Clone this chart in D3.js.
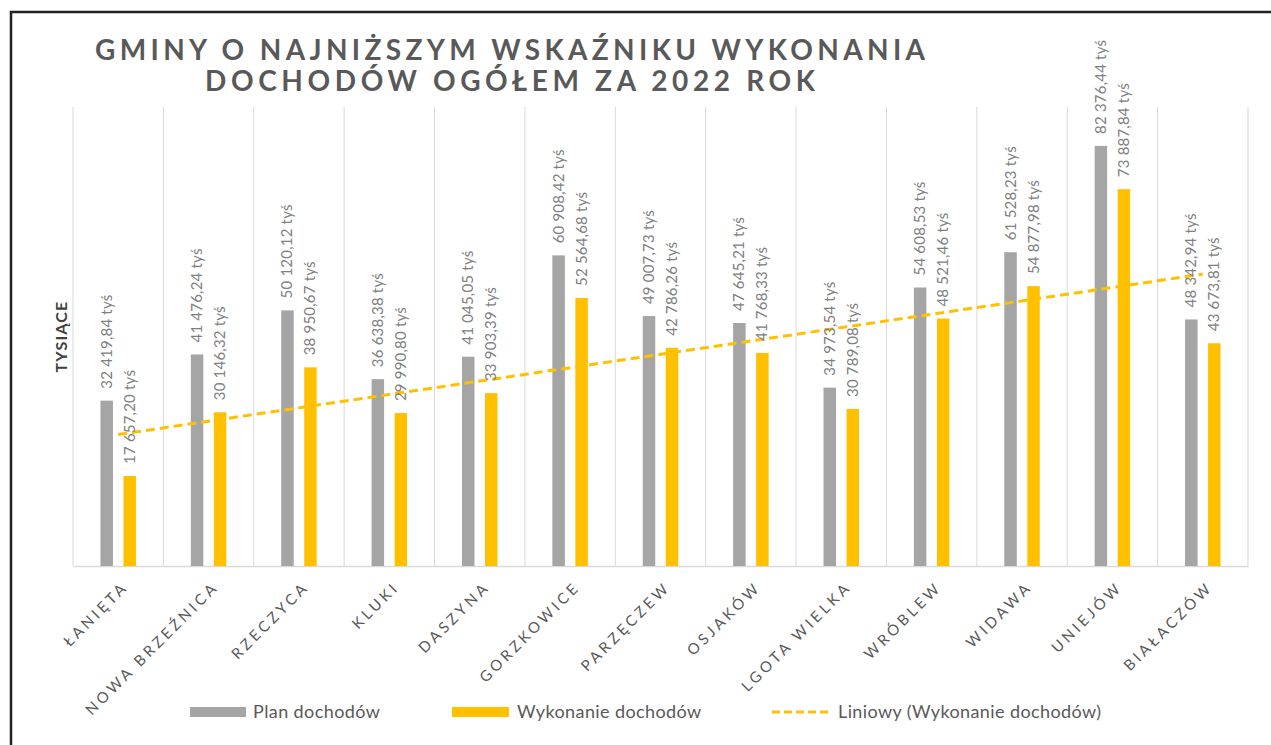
<!DOCTYPE html>
<html><head><meta charset="utf-8">
<script src="https://cdn.jsdelivr.net/npm/d3@7"></script>
<style>
html,body{margin:0;padding:0;background:#fff;}
svg{display:block;}
text{font-family:Lato, "Open Sans", sans-serif;}
</style></head>
<body>
<svg id="chart" width="1271" height="745"></svg>
<script>
const categories = ["ŁANIĘTA","NOWA BRZEŹNICA","RZECZYCA","KLUKI","DASZYNA","GORZKOWICE","PARZĘCZEW","OSJAKÓW","LGOTA WIELKA","WRÓBLEW","WIDAWA","UNIEJÓW","BIAŁACZÓW"];
const planValues = [32419.84,41476.24,50120.12,36638.38,41045.05,60908.42,49007.73,47645.21,34973.54,54608.53,61528.23,82376.44,48342.94];
const execValues = [17657.20,30146.32,38950.67,29990.80,33903.39,52564.68,42786.26,41768.33,30789.08,48521.46,54877.98,73887.84,43673.81];
const seriesNames = ["Plan dochodów","Wykonanie dochodów","Liniowy (Wykonanie dochodów)"];
const titleLines = ["GMINY O NAJNIŻSZYM WSKAŹNIKU WYKONANIA","DOCHODÓW OGÓŁEM ZA 2022 ROK"];
const yAxisTitle = "TYSIĄCE";
const yMax = 90000;

const GRAY = "#A5A5A5", GOLD = "#FFC000", TXT = "#595959";
const svg = d3.select("#chart");

// outer frame
svg.append("rect").attr("x",11).attr("y",12).attr("width",1300).attr("height",800)
  .attr("fill","none").attr("stroke","#222").attr("stroke-width",2.5);

const L = 73, R = 1248, T = 107, B = 566;
const x = d3.scaleBand().domain(categories).range([L,R]).padding(0);
const y = d3.scaleLinear().domain([0,yMax]).range([B,T]);
const barW = 12.5, gap = 10.5;

// vertical gridlines at category boundaries
const bounds = categories.map(c => x(c)).concat([R]);
svg.append("g").selectAll("line").data(bounds).join("line")
  .attr("x1",d=>d).attr("x2",d=>d).attr("y1",T).attr("y2",B)
  .attr("stroke","#D9D9D9").attr("stroke-width",1);

// x axis line
const xAxis = d3.axisBottom(x).tickSize(0).tickFormat("");
svg.append("g").attr("transform",`translate(0,${B})`).call(xAxis)
  .call(g=>g.select(".domain").attr("stroke","#D9D9D9").attr("stroke-width",1.5));

const cx = c => x(c) + x.bandwidth()/2;
const gx = c => cx(c) - gap/2 - barW;
const yx = c => cx(c) + gap/2;

svg.append("g").selectAll("rect").data(categories).join("rect")
  .attr("x",gx).attr("width",barW)
  .attr("y",(c,i)=>y(planValues[i])).attr("height",(c,i)=>B - y(planValues[i]))
  .attr("fill",GRAY);
svg.append("g").selectAll("rect").data(categories).join("rect")
  .attr("x",yx).attr("width",barW)
  .attr("y",(c,i)=>y(execValues[i])).attr("height",(c,i)=>B - y(execValues[i]))
  .attr("fill",GOLD);

// linear trend (least squares) of execution values
const n = execValues.length;
const xs = d3.range(1,n+1);
const mx = d3.mean(xs), my = d3.mean(execValues);
const sxy = d3.sum(xs,(v,i)=>(v-mx)*(execValues[i]-my));
const sxx = d3.sum(xs,v=>(v-mx)*(v-mx));
const slope = sxy/sxx, icpt = my - slope*mx;
const trend = categories.map((c,i)=>[cx(c), y(icpt + slope*(i+1))]);
svg.append("path").attr("d",d3.line()([trend[0],trend[n-1]]))
  .attr("stroke",GOLD).attr("stroke-width",3).attr("fill","none")
  .attr("stroke-dasharray","9,5");

// data labels
const fmt = v => {
  const s = v.toFixed(2).split(".");
  const int = s[0].replace(/\B(?=(\d{3})+(?!\d))/g," ");
  return int + "," + s[1] + " tyś";
};
function labels(vals, xf){
  svg.append("g").selectAll("text").data(categories).join("text")
    .attr("transform",(c,i)=>`translate(${xf(c)+barW/2+5},${y(vals[i])-12}) rotate(-90)`)
    .attr("font-size",15).attr("fill","#808080").attr("letter-spacing",0.2)
    .text((c,i)=>fmt(vals[i]));
}
labels(planValues,gx);
labels(execValues,yx);

// category labels
svg.append("g").selectAll("text").data(categories).join("text")
  .attr("transform",c=>`translate(${cx(c)+11},${588}) rotate(-45)`)
  .attr("text-anchor","end").attr("font-size",15).attr("letter-spacing",3.4)
  .attr("fill",TXT).text(c=>c);

// title
const tl = svg.append("g").attr("font-weight","bold").attr("fill",TXT).attr("font-size",28);
tl.append("text").attr("x",95).attr("y",60).attr("textLength",830).attr("lengthAdjust","spacing").text(titleLines[0]);
tl.append("text").attr("x",205).attr("y",91).attr("textLength",610).attr("lengthAdjust","spacing").text(titleLines[1]);

// y axis title
svg.append("text").attr("transform",`translate(67,${(T+B)/2}) rotate(-90)`)
  .attr("text-anchor","middle").attr("font-size",16).attr("font-weight","bold").attr("fill","#404040")
  .attr("letter-spacing",1.2)
  .text(yAxisTitle);

// legend
const lg = svg.append("g").attr("font-size",18).attr("fill",TXT).attr("letter-spacing",0.4);
lg.append("rect").attr("x",190).attr("y",707).attr("width",56).attr("height",10).attr("fill",GRAY);
lg.append("text").attr("x",253).attr("y",718).text(seriesNames[0]);
lg.append("rect").attr("x",452).attr("y",707).attr("width",57).attr("height",10).attr("fill",GOLD);
lg.append("text").attr("x",517).attr("y",718).text(seriesNames[1]);
lg.append("line").attr("x1",772).attr("x2",831).attr("y1",712).attr("y2",712)
  .attr("stroke",GOLD).attr("stroke-width",3).attr("stroke-dasharray","8,4");
lg.append("text").attr("x",838).attr("y",718).text(seriesNames[2]);
</script>
</body></html>
